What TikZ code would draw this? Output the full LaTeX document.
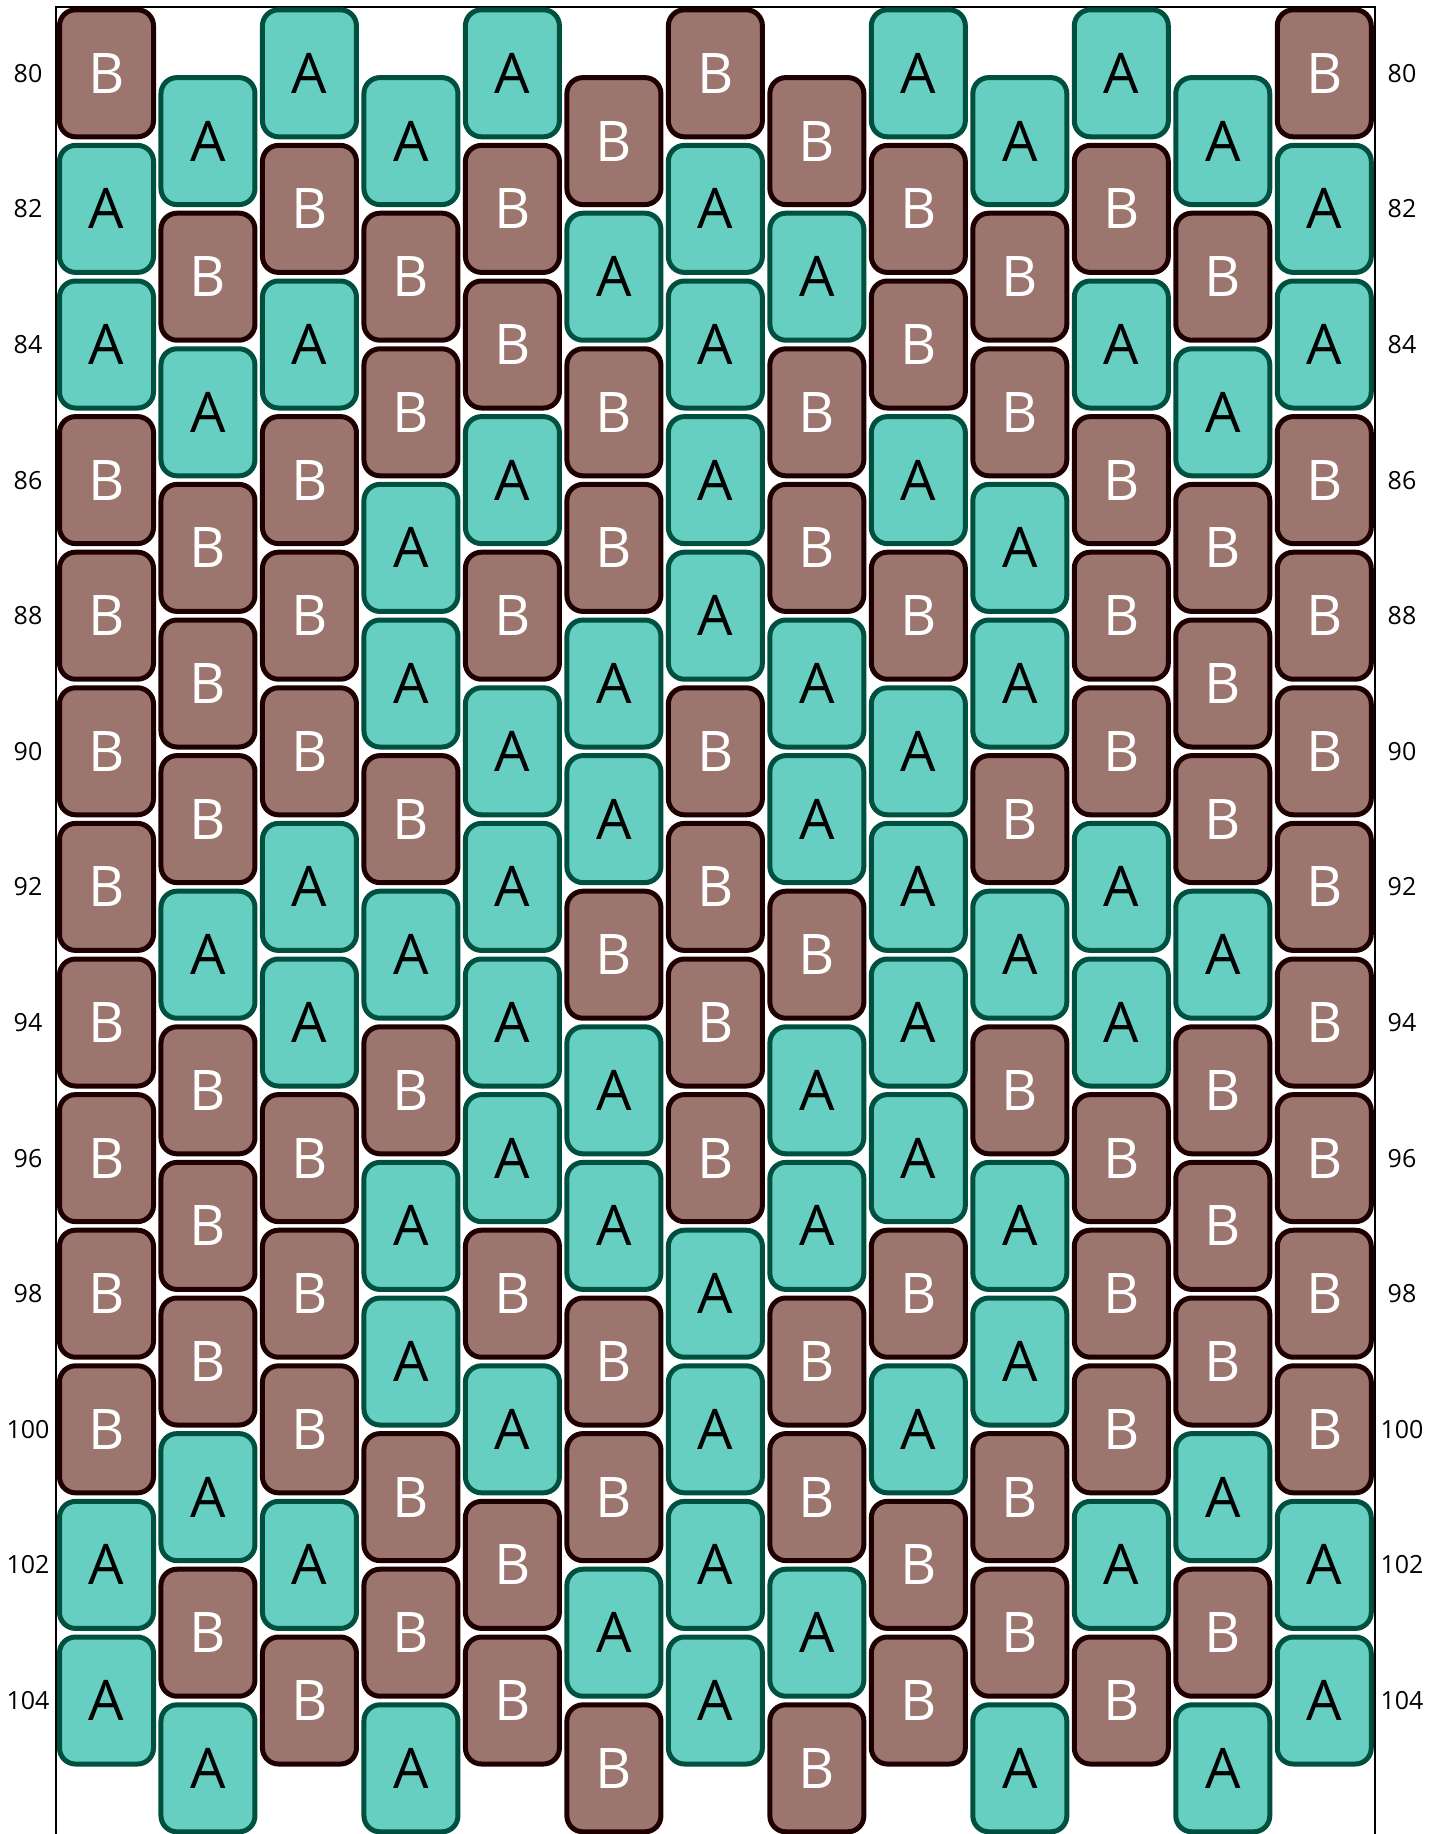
\documentclass[tikz,border=0pt]{standalone}
\usepackage{fontspec}
\setmainfont{Open Sans}
\definecolor{fillA}{HTML}{66CFC2}
\definecolor{drawA}{HTML}{00503F}
\definecolor{textA}{HTML}{000000}
\definecolor{fillB}{HTML}{9C766E}
\definecolor{drawB}{HTML}{1F0000}
\definecolor{textB}{HTML}{FFFFFF}
\tikzset{
  bead/.style={rectangle, rounded corners=16pt, minimum width=94pt, minimum height=127pt,
    inner sep=0pt, line width=5pt, font=\fontsize{56}{60}\selectfont},
  rowlabel/.style={font=\fontsize{25}{28}\selectfont, inner sep=0pt, text=black},
  frame/.style={line width=2pt, draw=black}
}
\begin{document}
\begin{tikzpicture}[x=1pt,y=-1pt]
\useasboundingbox (0,0) rectangle (1442,1834);
\clip (0,0) rectangle (1442,1834);
\fill[white] (0,0) rectangle (1442,1834);
\coordinate (fbl) at (56,1850);
\coordinate (ftl) at (56,7);
\coordinate (ftr) at (1375,7);
\coordinate (fbr) at (1375,1850);
\draw[frame] (fbl) -- (ftl) -- (ftr) -- (fbr);
\foreach \col/\seq in {
  0/{B,A,A,B,B,B,B,B,B,B,B,A,A},
  1/{A,B,A,B,B,B,A,B,B,B,A,B,A},
  2/{A,B,A,B,B,B,A,A,B,B,B,A,B},
  3/{A,B,B,A,A,B,A,B,A,A,B,B,A},
  4/{A,B,B,A,B,A,A,A,A,B,A,B,B},
  5/{B,A,B,B,A,A,B,A,A,B,B,A,B},
  6/{B,A,A,A,A,B,B,B,B,A,A,A,A},
  7/{B,A,B,B,A,A,B,A,A,B,B,A,B},
  8/{A,B,B,A,B,A,A,A,A,B,A,B,B},
  9/{A,B,B,A,A,B,A,B,A,A,B,B,A},
  10/{A,B,A,B,B,B,A,A,B,B,B,A,B},
  11/{A,B,A,B,B,B,A,B,B,B,A,B,A},
  12/{B,A,A,B,B,B,B,B,B,B,B,A,A}}{
  \pgfmathsetmacro\xc{106.5+101.48*\col}
  \pgfmathsetmacro\yoff{67.8*mod(\col,2)}
  \foreach \t [count=\i from 0] in \seq {
    \pgfmathsetmacro\yc{73.3+135.6*\i+\yoff}
    \node[bead, fill=fill\t, draw=draw\t, text=text\t] (b\col-\i) at (\xc,\yc) {\t};
  }
}
\foreach \r [count=\i from 0] in {80,82,...,104} {
  \node[rowlabel] (L\r) at (28,73.3+135.6*\i) {\r};
  \node[rowlabel] (R\r) at (1402,73.3+135.6*\i) {\r};
}
\end{tikzpicture}
\end{document}
